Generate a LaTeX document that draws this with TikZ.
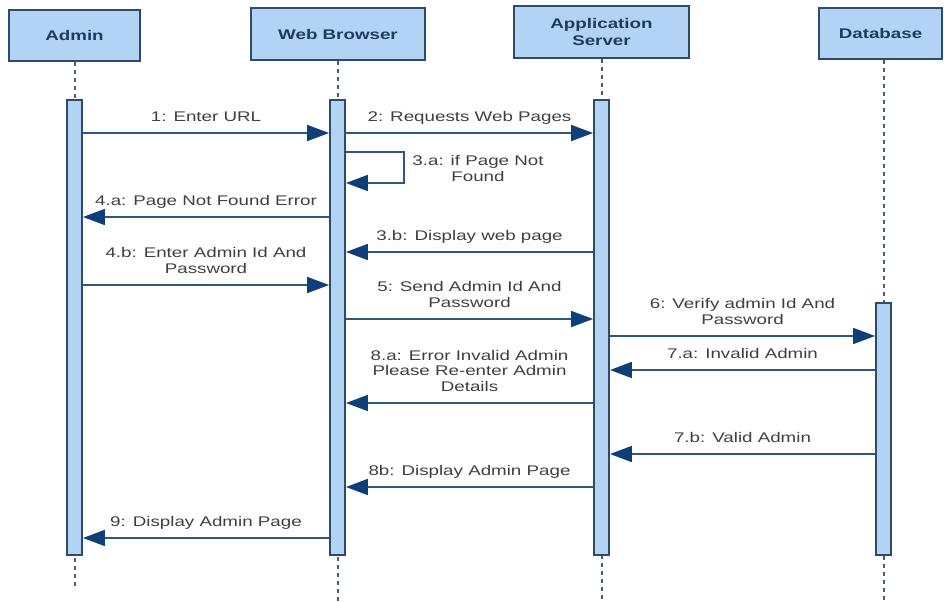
\documentclass[tikz,border=0pt]{standalone}
\usepackage{fontspec}
\setmainfont{Liberation Sans}[FakeStretch=1.34]
\usetikzlibrary{arrows.meta}

\definecolor{headfill}{HTML}{B3D3F5}
\definecolor{edge}{HTML}{2E4A6C}
\definecolor{msgline}{HTML}{2F5880}
\definecolor{tipblue}{HTML}{0E3F78}
\definecolor{txtgray}{HTML}{3F3F3F}
\definecolor{headtxt}{HTML}{1F3B62}
\definecolor{dashgray}{HTML}{4F5E70}

\tikzset{
	head/.style={draw=edge,line width=1.5pt,fill=headfill,align=center,inner sep=0pt,
		font=\fontsize{10.5}{12.75}\selectfont\bfseries,text=headtxt},
	bar/.style={draw=edge,line width=1.4pt,fill=headfill,minimum width=11.25pt,inner sep=0pt},
	life/.style={draw=dashgray,line width=1.5pt,dash pattern=on 3pt off 3pt},
	msg/.style={draw=msgline,line width=1.3pt,-{Triangle[length=16.5pt,width=12pt,color=tipblue]}},
	lbl/.style={font=\fontsize{10.5}{11.8}\selectfont,text=txtgray,align=center,
		inner sep=0pt,text depth=0pt}
}

\begin{document}
\begin{tikzpicture}[x=0.75pt,y=-0.75pt]
	\useasboundingbox (0,0) rectangle (944,602);
	
	% lifeline heads
	\node[head,minimum width=98.25pt,minimum height=38.25pt] (admin) at (74.5,35.5) {Admin};
	\node[head,minimum width=130.5pt,minimum height=39pt] (web) at (338,34) {Web Browser};
	\node[head,minimum width=131.25pt,minimum height=39pt] (app) at (601.5,32) {Application\\Server};
	\node[head,minimum width=92.25pt,minimum height=38.25pt] (db) at (880.5,33.5) {Database};
	
	\coordinate (adminEnd) at (74.5,590);
	\coordinate (webEnd) at (337.5,602);
	\coordinate (appEnd) at (601.5,602);
	\coordinate (dbEnd) at (883.5,602);
	
	\draw[life] (adminEnd |- admin.south)--(adminEnd);
	\draw[life] (webEnd |- web.south)--(webEnd);
	\draw[life] (appEnd |- app.south)--(appEnd);
	\draw[life] (dbEnd |- db.south)--(dbEnd);
	
	% activation bars
	\node[bar,minimum height=341.25pt] (adminBar) at (74.5,327.5) {};
	\node[bar,minimum height=341.25pt] (webBar) at (337.5,327.5) {};
	\node[bar,minimum height=341.25pt] (appBar) at (601.5,327.5) {};
	\node[bar,minimum height=189pt] (dbBar) at (883.5,429) {};
	
	% messages
	\draw[msg] (adminBar.east |- 0,133)--node[lbl,above=8pt] (l1) {1: Enter URL} (webBar.west |- 0,133);
	\draw[msg] (webBar.east |- 0,133)--node[lbl,above=8pt] (l2) {2: Requests Web Pages} (appBar.west |- 0,133);
	\draw[msg] (webBar.east |- 0,152)--(404,152)--(404,183)--(webBar.east |- 0,183);
	\node[lbl,anchor=south] (l3a) at (478,182) {3.a: if Page Not\\Found};
	\draw[msg] (webBar.west |- 0,217)--node[lbl,above=8pt] (l4a) {4.a: Page Not Found Error} (adminBar.east |- 0,217);
	\draw[msg] (appBar.west |- 0,252)--node[lbl,above=8pt] (l3b) {3.b: Display web page} (webBar.east |- 0,252);
	\draw[msg] (adminBar.east |- 0,285)--node[lbl,above=8pt] (l4b) {4.b: Enter Admin Id And\\Password} (webBar.west |- 0,285);
	\draw[msg] (webBar.east |- 0,319)--node[lbl,above=8pt] (l5) {5: Send Admin Id And\\Password} (appBar.west |- 0,319);
	\draw[msg] (appBar.east |- 0,336)--node[lbl,above=8pt] (l6) {6: Verify admin Id And\\Password} (dbBar.west |- 0,336);
	\draw[msg] (dbBar.west |- 0,370)--node[lbl,above=8pt] (l7a) {7.a: Invalid Admin} (appBar.east |- 0,370);
	\draw[msg] (appBar.west |- 0,403)--node[lbl,above=8pt] (l8a) {8.a: Error Invalid Admin\\Please Re-enter Admin\\Details} (webBar.east |- 0,403);
	\draw[msg] (dbBar.west |- 0,454)--node[lbl,above=8pt] (l7b) {7.b: Valid Admin} (appBar.east |- 0,454);
	\draw[msg] (appBar.west |- 0,487)--node[lbl,above=8pt] (l8b) {8b: Display Admin Page} (webBar.east |- 0,487);
	\draw[msg] (webBar.west |- 0,538)--node[lbl,above=8pt] (l9) {9: Display Admin Page} (adminBar.east |- 0,538);
\end{tikzpicture}
\end{document}
